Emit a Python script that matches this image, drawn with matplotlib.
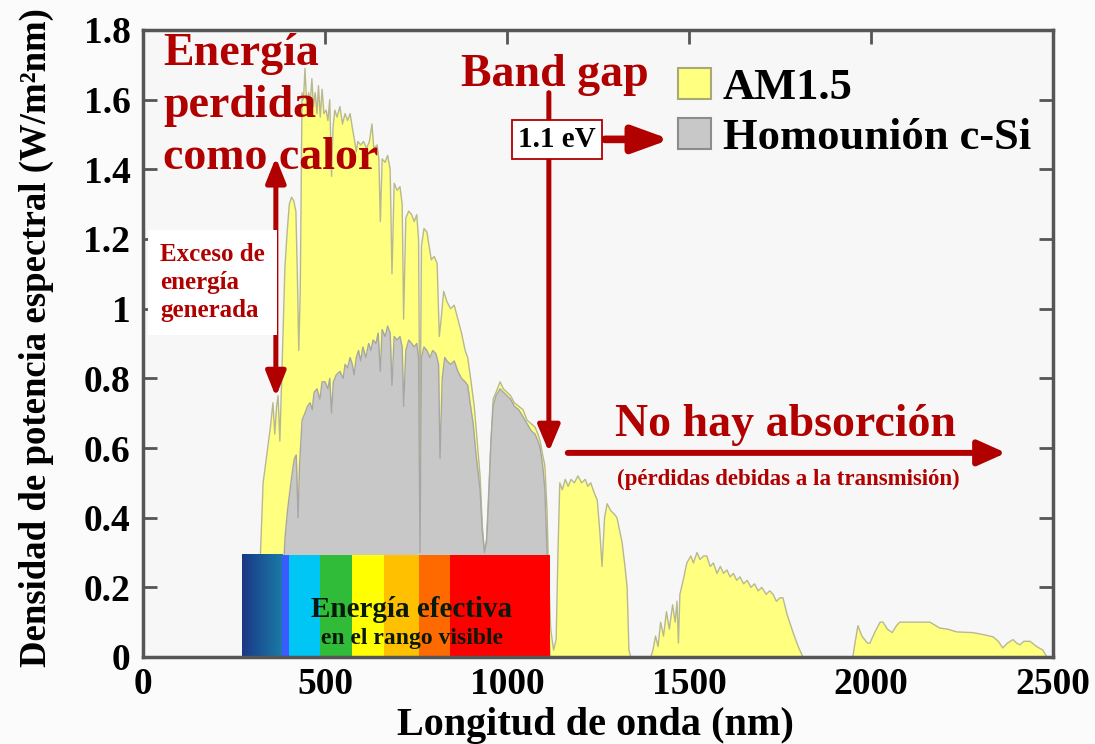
import matplotlib
matplotlib.use("Agg")
import matplotlib.pyplot as plt
import matplotlib.colors as mcolors
from matplotlib.patches import Patch, Rectangle
import numpy as np

plt.rcParams['font.family'] = ['Liberation Serif', 'DejaVu Serif']
plt.rcParams['font.weight'] = 'bold'

# ---------------------------------------------------------------- data
series_names = ['AM1.5', 'Homounión c-Si']

# AM1.5 solar spectrum (W/m²nm)
am15_nm = [280, 300, 310, 320, 330, 340, 350, 357, 362, 367, 371, 376, 380, 385,
           390, 396, 402, 408, 414, 420, 424, 428, 432, 437, 441, 445, 450, 455,
           459, 464, 468, 473, 478, 482, 487, 492, 497, 503, 508, 513, 518, 522,
           527, 533, 541, 548, 555, 562, 569, 575, 580, 586, 590, 598, 606, 614,
           622, 629, 634, 643, 648, 652, 657, 665, 672, 679, 684, 690, 698, 706,
           712, 716, 722, 730, 738, 745, 752, 757, 761, 765, 772, 780, 786, 792,
           800, 808, 814, 820, 826, 835, 845, 855, 865, 875, 885, 892, 900, 910,
           918, 926, 932, 938, 944, 950, 956, 962, 970, 981, 990, 1000, 1010,
           1020, 1032, 1044, 1055, 1066, 1077, 1085, 1091, 1098, 1104, 1110, 1114,
           1120, 1128, 1135, 1140, 1145, 1152, 1160, 1168, 1176, 1185, 1195, 1205,
           1215, 1222, 1230, 1240, 1248, 1255, 1261, 1268, 1275, 1285, 1295, 1302,
           1310, 1316, 1323, 1330, 1335, 1340, 1395, 1401, 1408, 1415, 1422, 1430,
           1438, 1446, 1455, 1462, 1467, 1471, 1475, 1484, 1494, 1505, 1512, 1522,
           1530, 1540, 1549, 1558, 1567, 1577, 1586, 1595, 1604, 1613, 1622, 1631,
           1640, 1650, 1660, 1670, 1680, 1690, 1700, 1712, 1722, 1731, 1740, 1750,
           1758, 1770, 1786, 1800, 1813, 1950, 1956, 1964, 1975, 1990, 1997, 2010,
           2025, 2033, 2045, 2058, 2070, 2079, 2100, 2130, 2162, 2189, 2210, 2236,
           2260, 2280, 2310, 2335, 2350, 2362, 2375, 2390, 2400, 2409, 2420, 2437,
           2455, 2472, 2483, 2490]
am15_val = [0.0, 0.0, 0.04, 0.22, 0.50, 0.58, 0.66, 0.73, 0.64, 0.72, 0.75, 0.62, 0.76, 0.93,
            1.12, 1.22, 1.30, 1.32, 1.31, 1.28, 1.10, 0.88, 1.05, 1.62, 1.60, 1.69, 1.58, 1.62,
            1.59, 1.66, 1.58, 1.62, 1.56, 1.64, 1.55, 1.63, 1.56, 1.57, 1.54, 1.60, 1.38, 1.52,
            1.57, 1.55, 1.58, 1.53, 1.56, 1.54, 1.56, 1.52, 1.49, 1.45, 1.48, 1.47, 1.48, 1.46,
            1.48, 1.53, 1.46, 1.47, 1.43, 1.25, 1.43, 1.42, 1.44, 1.40, 1.10, 1.36, 1.34, 1.35,
            1.30, 0.97, 1.26, 1.28, 1.27, 1.25, 1.27, 1.20, 0.60, 1.18, 1.23, 1.22, 1.18, 1.14,
            1.15, 1.13, 0.92, 0.98, 1.05, 1.02, 1.00, 1.01, 0.97, 0.93, 0.88, 0.86, 0.80, 0.72,
            0.62, 0.52, 0.38, 0.30, 0.34, 0.48, 0.62, 0.74, 0.76, 0.79, 0.77, 0.76, 0.75,
            0.73, 0.72, 0.71, 0.68, 0.67, 0.66, 0.64, 0.62, 0.58, 0.55, 0.42, 0.25,
            0.08, 0.02, 0.05, 0.30, 0.50, 0.48, 0.51, 0.49, 0.51, 0.50, 0.52, 0.50,
            0.51, 0.49, 0.50, 0.47, 0.45, 0.36, 0.26, 0.40, 0.44, 0.42, 0.41, 0.40,
            0.36, 0.33, 0.27, 0.20, 0.02, 0.0, 0.0, 0.02, 0.06, 0.03, 0.10, 0.06,
            0.13, 0.08, 0.15, 0.10, 0.16, 0.04, 0.18, 0.22, 0.27, 0.29, 0.27, 0.30,
            0.28, 0.29, 0.29, 0.26, 0.27, 0.24, 0.26, 0.24, 0.25, 0.23, 0.24, 0.22,
            0.23, 0.21, 0.22, 0.20, 0.21, 0.19, 0.20, 0.18, 0.19, 0.18, 0.16, 0.17,
            0.17, 0.12, 0.07, 0.03, 0.0, 0.0, 0.04, 0.09, 0.06, 0.04, 0.04, 0.07,
            0.10, 0.10, 0.08, 0.07, 0.09, 0.10, 0.10, 0.10, 0.10, 0.083, 0.08, 0.072,
            0.071, 0.07, 0.064, 0.058, 0.045, 0.026, 0.04, 0.05, 0.04, 0.035, 0.045, 0.045,
            0.03, 0.02, 0.0, 0.0]

# power absorbed by the c-Si homojunction (W/m²nm)
csi_nm = [370, 380, 390, 397, 404, 410, 416, 421, 426, 430, 437, 445, 452, 459,
          465, 470, 478, 486, 492, 500, 508, 513, 518, 523, 531, 541, 550, 555,
          562, 569, 575, 580, 586, 592, 598, 604, 612, 620, 626, 632, 640, 646,
          652, 657, 665, 672, 679, 684, 690, 698, 706, 712, 716, 722, 730, 738,
          745, 752, 757, 761, 765, 772, 780, 788, 796, 805, 812, 816, 822, 829,
          835, 845, 855, 865, 875, 885, 892, 900, 907, 915, 926, 932, 938, 944,
          950, 956, 962, 970, 981, 990, 1000, 1010, 1020, 1032, 1044, 1055, 1066,
          1077, 1085, 1091, 1098, 1104, 1110, 1114, 1118]
csi_val = [0.0, 0.12, 0.34, 0.42, 0.48, 0.53, 0.57, 0.58, 0.40, 0.55, 0.68, 0.70, 0.72, 0.73,
           0.71, 0.76, 0.77, 0.74, 0.79, 0.79, 0.77, 0.80, 0.70, 0.79, 0.81, 0.82, 0.80, 0.84,
           0.83, 0.86, 0.84, 0.81, 0.86, 0.88, 0.85, 0.89, 0.86, 0.90, 0.88, 0.91, 0.90, 0.93,
           0.82, 0.94, 0.92, 0.95, 0.93, 0.78, 0.92, 0.91, 0.92, 0.89, 0.72, 0.88, 0.91, 0.90,
           0.89, 0.90, 0.86, 0.30, 0.86, 0.89, 0.88, 0.86, 0.88, 0.87, 0.84, 0.57, 0.80, 0.86,
           0.85, 0.84, 0.85, 0.82, 0.80, 0.79, 0.78, 0.72, 0.67, 0.58, 0.48, 0.36, 0.30, 0.33,
           0.46, 0.62, 0.72, 0.75, 0.77, 0.76, 0.75, 0.74, 0.72, 0.71, 0.69, 0.67, 0.65,
           0.64, 0.62, 0.60, 0.55, 0.48, 0.30, 0.12, 0.0]

x_ticks = [0, 500, 1000, 1500, 2000, 2500]
y_ticks = [0, 0.2, 0.4, 0.6, 0.8, 1.0, 1.2, 1.4, 1.6, 1.8]
y_tick_labels = ['0', '0.2', '0.4', '0.6', '0.8', '1', '1.2', '1.4', '1.6', '1.8']

# visible-range colour strip: band edges (nm) and colours
band_edges = [272, 382, 401, 486, 574, 662, 758, 843, 1118]
band_colors = [('#1b3886', '#1a7ba8'), '#3a5cff', '#00c6f5', '#30bb38',
               '#ffff00', '#ffc000', '#ff6a00', '#ff0000']
band_top = 0.293

band_gap_nm = 1115

# ---------------------------------------------------------------- figure
RED = '#b00000'
fig = plt.figure(figsize=(10.95, 7.44), dpi=100, facecolor='#fbfbfb')
ax = fig.add_axes([143 / 1095, 87 / 744, 910 / 1095, 627 / 744])
ax.set_facecolor('#f7f7f7')

ax.fill_between(am15_nm, am15_val, color='#ffff80', lw=0, zorder=2)
ax.plot(am15_nm, am15_val, color='#b8b890', lw=1.0, zorder=3)
ax.fill_between(csi_nm, csi_val, color='#c8c8c8', lw=0, zorder=4)
ax.plot(csi_nm, csi_val, color='#a6a6a6', lw=1.0, zorder=5)

# colour strip of the visible range
g0, g1 = band_colors[0]
t = np.linspace(0, 1, 64)[None, :, None]
grad = (1 - t) * np.array(mcolors.to_rgb(g0)) + t * np.array(mcolors.to_rgb(g1))
ax.imshow(grad, extent=[band_edges[0], band_edges[1], 0, band_top],
          aspect='auto', zorder=6, interpolation='bilinear')
for x0, x1, c in zip(band_edges[1:-1], band_edges[2:], band_colors[1:]):
    ax.add_patch(Rectangle((x0, 0), x1 - x0, band_top, facecolor=c, lw=0, zorder=6))
ax.text(739, 0.135, 'Energía efectiva', ha='center', va='center',
        fontsize=21, color='#0a1a0a', zorder=7)
ax.text(739, 0.053, 'en el rango visible', ha='center', va='center',
        fontsize=17, color='#0a1a0a', zorder=7)

ax.set_xlim(0, 2500)
ax.set_ylim(0, 1.8)
ax.set_xticks(x_ticks)
ax.set_xticklabels([str(v) for v in x_ticks])
ax.set_yticks(y_ticks)
ax.set_yticklabels(y_tick_labels)
ax.tick_params(direction='in', length=10, width=2, color='#555555',
               top=True, right=True, labelsize=27, labelcolor='black')
ax.tick_params(axis='x', pad=7)
ax.tick_params(axis='y', pad=9)
for s in ax.spines.values():
    s.set_color('#555555')
    s.set_linewidth(2.5)
    s.set_zorder(8)

ax.set_xlabel('Longitud de onda (nm)', fontsize=29, fontweight='bold')
ax.xaxis.set_label_coords(0.497, -0.079)
ax.set_ylabel('Densidad de potencia espectral (W/m²nm)', fontsize=26.5, fontweight='bold')
ax.yaxis.set_label_coords(-0.098, 0.51)

# legend
handles = [Patch(facecolor='#ffff80', edgecolor='#a8a878', lw=1.5),
           Patch(facecolor='#c8c8c8', edgecolor='#8c8c8c', lw=1.5)]
ax.legend(handles, series_names, loc='upper left', bbox_to_anchor=(0.588, 0.94),
          frameon=False, prop=dict(weight='bold', size=32), handlelength=0.75,
          handleheight=0.7, handletextpad=0.25, labelspacing=0.22,
          borderpad=0, borderaxespad=0)

# annotations
ax.text(55, 1.79, 'Energía\nperdida\ncomo calor', color=RED, fontsize=33,
        va='top', ha='left', linespacing=1.3, zorder=10)
ax.annotate('', xy=(365, 1.434), xytext=(365, 0.747),
            arrowprops=dict(arrowstyle='<|-|>,head_length=1.0,head_width=0.4',
                            color=RED, lw=3.6, mutation_scale=15,
                            shrinkA=0, shrinkB=0), zorder=9)
ax.text(47, 1.075, 'Exceso de\nenergía\ngenerada', color=RED, fontsize=18,
        va='center', ha='left', linespacing=1.3, zorder=10,
        bbox=dict(boxstyle='square,pad=0.5', fc='white', ec='none'))

ax.text(1132, 1.672, 'Band gap', color=RED, fontsize=33, ha='center', va='center', zorder=10)
ax.annotate('', xy=(band_gap_nm, 0.589), xytext=(band_gap_nm, 1.62),
            arrowprops=dict(arrowstyle='-|>,head_length=1.0,head_width=0.42',
                            color=RED, lw=3.6, mutation_scale=16,
                            shrinkA=0, shrinkB=0), zorder=9)
ax.annotate('', xy=(1448, 1.486), xytext=(1269, 1.486),
            arrowprops=dict(arrowstyle='-|>,head_length=1.1,head_width=0.4',
                            color=RED, lw=5.5, mutation_scale=20,
                            shrinkA=0, shrinkB=0), zorder=9)
ax.text(1137, 1.486, '1.1 eV', color='black', fontsize=21, ha='center', va='center',
        zorder=11, bbox=dict(boxstyle='square,pad=0.2', fc='white', ec=RED, lw=1.3))

ax.text(1766, 0.667, 'No hay absorción', color=RED, fontsize=33,
        ha='center', va='center', zorder=10)
ax.annotate('', xy=(2371, 0.586), xytext=(1167, 0.586),
            arrowprops=dict(arrowstyle='-|>,head_length=0.85,head_width=0.38',
                            color=RED, lw=4.3, mutation_scale=20,
                            shrinkA=0, shrinkB=0), zorder=9)
ax.text(1772, 0.509, '(pérdidas debidas a la transmisión)', color=RED, fontsize=16.5,
        ha='center', va='center', zorder=10)

fig.savefig('out.png', dpi=100, facecolor=fig.get_facecolor())
